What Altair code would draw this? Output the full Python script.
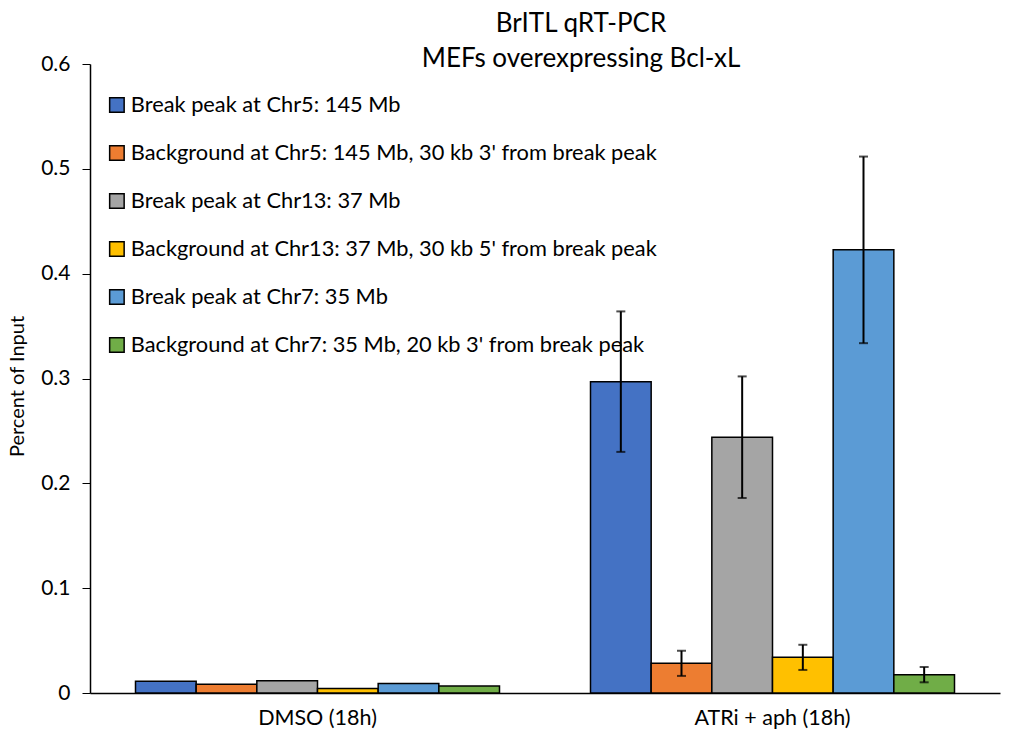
import altair as alt
import pandas as pd

groups = ["DMSO (18h)", "ATRi + aph (18h)"]
series = [
    "Break peak at Chr5: 145 Mb",
    "Background at Chr5: 145 Mb, 30 kb 3' from break peak",
    "Break peak at Chr13: 37 Mb",
    "Background at Chr13: 37 Mb, 30 kb 5' from break peak",
    "Break peak at Chr7: 35 Mb",
    "Background at Chr7: 35 Mb, 20 kb 3' from break peak",
]
colors = ["#4472C4", "#ED7D31", "#A5A5A5", "#FFC000", "#5B9BD5", "#70AD47"]
dmso_values = [0.0112, 0.0083, 0.0117, 0.0042, 0.0090, 0.0067]
atri_values = [0.297, 0.0283, 0.244, 0.034, 0.4227, 0.0175]
dmso_errors = [0, 0, 0, 0, 0, 0]
atri_errors = [0.067, 0.012, 0.058, 0.012, 0.089, 0.0073]

rows = []
for g, vals, errs in [(groups[0], dmso_values, dmso_errors), (groups[1], atri_values, atri_errors)]:
    for s, v, e in zip(series, vals, errs):
        rows.append({"group": g, "series": s, "value": v, "lo": v - e, "hi": v + e, "err": e})
df = pd.DataFrame(rows)

FONT = "Lato"

x = alt.X("group:N", sort=groups, title=None,
          scale=alt.Scale(paddingInner=0, paddingOuter=0),
          axis=alt.Axis(labelAngle=0, ticks=False, labelFontSize=21.5, labelFont=FONT,
                        labelColor="black", domainColor="black", labelPadding=14))
xo = alt.XOffset("series:N", sort=series, scale=alt.Scale(paddingOuter=0.75, paddingInner=0))

base = alt.Chart(df)

bars = base.mark_bar(stroke="black", strokeWidth=1.5).encode(
    x=x, xOffset=xo,
    y=alt.Y("value:Q", title="Percent of Input",
            scale=alt.Scale(domain=[0, 0.6], nice=False),
            axis=alt.Axis(values=[0, 0.1, 0.2, 0.3, 0.4, 0.5, 0.6], format=".1~f", grid=False,
                          labelFontSize=21, labelFont=FONT, labelColor="black",
                          titleFontSize=20, titleFont=FONT, titleFontWeight="normal",
                          titleColor="black", domainColor="black", tickColor="black",
                          tickSize=8, labelPadding=12, titlePadding=13, titleY=322)),
    color=alt.Color("series:N", sort=series, scale=alt.Scale(domain=series, range=colors),
                    legend=alt.Legend(title=None, orient="none", legendX=16, legendY=30,
                                      symbolType="square", symbolSize=210,
                                      symbolStrokeColor="black", symbolStrokeWidth=1.5,
                                      labelFontSize=21.8, labelFont=FONT, labelColor="black",
                                      labelOffset=3, rowPadding=25.0, labelLimit=800)),
)

err = base.transform_filter("datum.err > 0")
rules = err.mark_rule(color="black", strokeWidth=2).encode(
    x=x, xOffset=xo, y="lo:Q", y2="hi:Q")
cap_lo = err.mark_tick(color="black", thickness=2, size=9).encode(x=x, xOffset=xo, y="lo:Q")
cap_hi = err.mark_tick(color="black", thickness=2, size=9).encode(x=x, xOffset=xo, y="hi:Q")

chart = alt.layer(bars, rules, cap_lo, cap_hi).properties(
    width=910, height=629,
    title=alt.TitleParams(["BrITL qRT-PCR", "MEFs overexpressing Bcl-xL"], fontSize=26, font=FONT,
                          fontWeight="normal", color="black", anchor="middle", dx=36,
                          lineHeight=35, offset=-19),
    autosize=alt.AutoSizeParams(type="none"),
    padding={"left": 82, "top": 56, "right": 6, "bottom": 37},
).configure_view(stroke=None).configure_axis(domainWidth=1.5)

chart.save("out.html", embed_options={"renderer": "svg", "actions": False})
